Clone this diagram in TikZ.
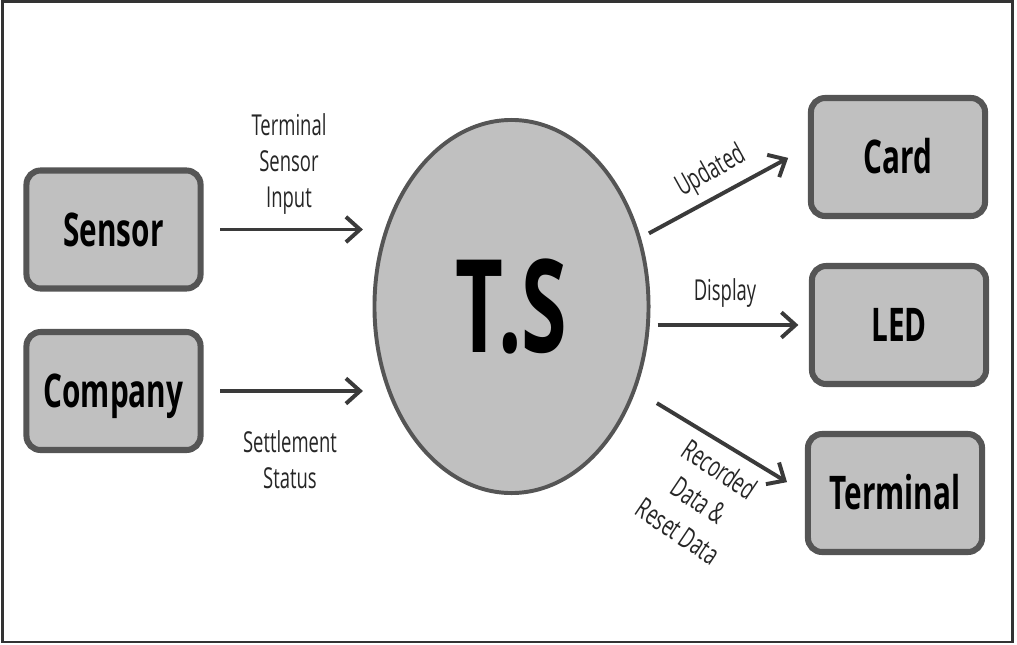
\documentclass[tikz,border=0pt]{standalone}
\usepackage{fontspec}
\newfontfamily\dfont[FakeStretch=0.64]{Open Sans}
\usepackage{tikz}
\usetikzlibrary{shapes.geometric,  % ellipse
           arrows.meta}
\definecolor{boxfill}{HTML}{C0C0C0}
\definecolor{boxline}{HTML}{555555}
\definecolor{arrline}{HTML}{3A3A3A}

\begin{document}
\begin{tikzpicture}[x=0.025cm,y=-0.025cm,
  blk/.style={draw=boxline,fill=boxfill,line width=4.3pt,rounded corners=10pt,
    minimum width=123.8pt,minimum height=83.9pt,inner sep=0pt,
    text height=23.5pt,text depth=0pt,font=\dfont\bfseries\fontsize{33}{36}\selectfont},
  lbl/.style={align=center,inner sep=0pt,text=black!85,font=\dfont\fontsize{20.5}{25.5}\selectfont},
  arr/.style={draw=arrline,line width=2.8pt,-{Straight Barb[length=10pt,width=18pt]}}]
\useasboundingbox(0,0)rectangle(1017,644);
\draw[line width=2.1pt,black!80](2.5,1.5)rectangle(1012.5,642);
% blocs
\node[blk](sensor)at(113.5,229.5){Sensor};
\node[blk](company)at(113.5,391){Company};
\node[blk](card)at(898,157){Card};
\node[blk](led)at(899,325){LED};
\node[blk](terminal)at(895,493){Terminal};
\node[ellipse,draw=boxline,fill=boxfill,line width=2.8pt,minimum width=194.9pt,minimum height=265.3pt,
  inner sep=0pt,font=\dfont\bfseries\fontsize{92}{92}\selectfont](ts)at(511.5,306.5){T.S};
% fleches
\draw[arr,shorten <=11.7pt,shorten >=6.8pt](sensor.east)--(sensor.east-|ts.west);
\draw[arr,shorten <=11.7pt,shorten >=6.8pt](company.east)--(company.east-|ts.west);
\draw[arr,shorten <=6.5pt,shorten >=16pt](ts.28)--([yshift=7pt]card.west);
\draw[arr,shorten <=5pt,shorten >=7.5pt](led.west-|ts.east)--(led.west);
\draw[arr,shorten <=17.4pt,shorten >=14.9pt](ts.326)--(terminal.west);
% etiquettes
\node[lbl](lsens)at(289,164){Terminal\\Sensor\\Input};
\node[lbl](lcomp)at(290,460){Settlement\\Status};
\node[lbl,rotate=29](lupd)at(711,172){Updated};
\node[lbl](ldisp)at(725,293){Display};
\node[lbl,rotate=-34,font=\dfont\fontsize{20.5}{26.5}\selectfont](lrec)at(699,500){Recorded\\Data \&\\Reset Data};
\end{tikzpicture}
\end{document}
